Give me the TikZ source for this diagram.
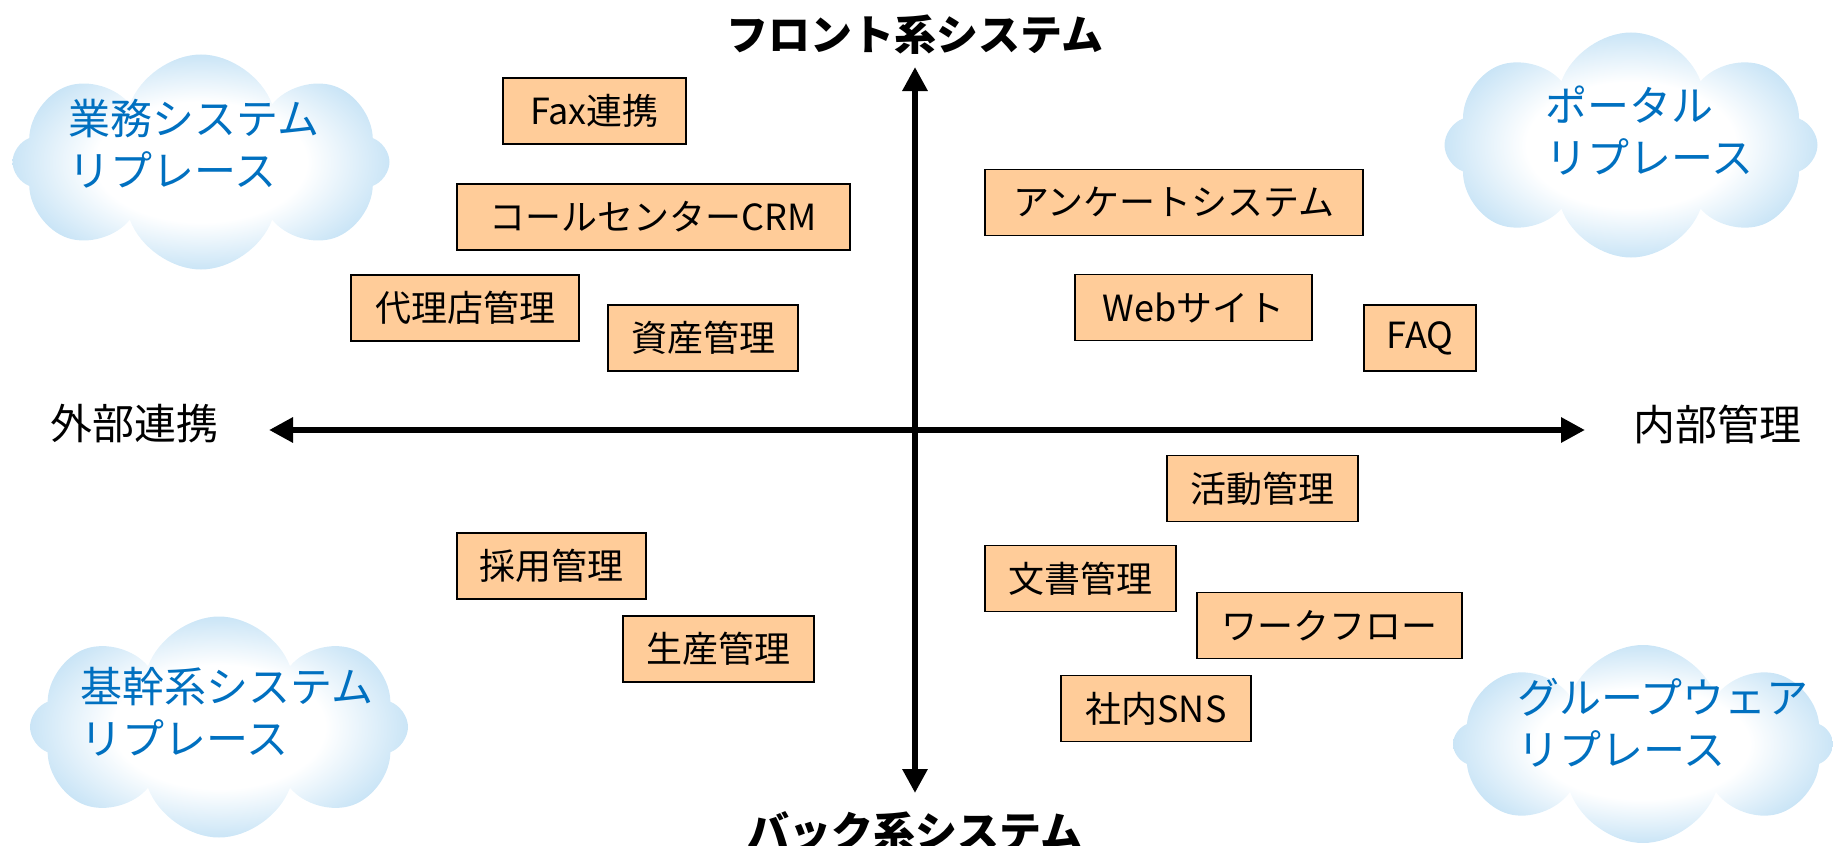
\documentclass[tikz,border=0pt]{standalone}
\usepackage{fontspec}
\setmainfont{Noto Sans CJK JP}
\usepackage{xcolor}
\usepackage{tikz}
\usetikzlibrary{positioning, arrows.meta, shapes.symbols}

\definecolor{boxfill}{RGB}{255,204,153}
\definecolor{cloudblue}{RGB}{140,198,236}
\definecolor{cloudtext}{RGB}{0,112,192}
\pgfdeclareradialshading{cloudfade}{\pgfpoint{0bp}{0bp}}{color(0bp)=(white); color(14bp)=(white); color(38bp)=(cloudblue); color(50bp)=(cloudblue)}

\begin{document}
\begin{tikzpicture}[x=0.5pt,y=-0.5pt,>={Triangle[width=12pt,length=12pt]}]
\tikzset{box/.style={draw,fill=boxfill,line width=0.8pt,minimum height=33pt,inner sep=0pt,font=\fontsize{18pt}{22pt}\selectfont},
  cloudy/.style={cloud,cloud puffs=8,cloud puff arc=140,cloud ignores aspect,shading=cloudfade,inner sep=0pt},
  cloudlbl/.style={anchor=west,align=left,text=cloudtext,inner sep=0pt,font=\fontsize{21pt}{26pt}\selectfont},
  axlbl/.style={inner sep=0pt,font=\fontsize{21pt}{26pt}\selectfont}}
\useasboundingbox (0,0) rectangle (1833,846);

% clouds
\node[cloudy,minimum width=188.5pt,minimum height=107.5pt] (gyomu) at (201,162) {};
\node[cloudy,minimum width=186.5pt,minimum height=112.5pt] (portal) at (1631,145) {};
\node[cloudy,minimum width=189pt,minimum height=110.5pt] (kikan) at (219,727) {};
\node[cloudy,minimum width=190pt,minimum height=99pt] (gware) at (1643,744) {};
\node[cloudlbl] (gyomut) at (68,144) {業務システム\\リプレース};
\node[cloudlbl] (portalt) at (1545,131) {ポータル\\リプレース};
\node[cloudlbl] (kikant) at (80,712) {基幹系システム\\リプレース};
\node[cloudlbl] (gwaret) at (1517,723) {グループウェア\\リプレース};

% axes
\coordinate (ntop) at (915,67);
\coordinate (nbot) at (915,793);
\coordinate (nleft) at (269,430);
\coordinate (nright) at (1585,430);
\draw[<->,line width=3pt] (ntop) -- (nbot);
\draw[<->,line width=3pt] (nleft) -- (nright);
\node[axlbl,font=\fontsize{21pt}{26pt}\selectfont\bfseries] (front) at (915,35) {フロント系システム};
\node[axlbl,font=\fontsize{21pt}{26pt}\selectfont\bfseries] (back) at (915,832) {バック系システム};
\node[axlbl,left=25pt of nleft,yshift=3pt] (gaibu) {外部連携};
\node[axlbl,right=24pt of nright,yshift=3pt] (naibu) {内部管理};

% systems
\node[box,minimum width=91.5pt] (fax) at (594.5,111) {Fax連携};
\node[box,minimum width=196.5pt] (crm) at (653.5,217) {コールセンターCRM};
\node[box,minimum width=114pt] (dairi) at (465,308) {代理店管理};
\node[box,minimum width=95pt] (shisan) at (703,338) {資産管理};
\node[box,minimum width=189pt] (enq) at (1174,202.5) {アンケートシステム};
\node[box,minimum width=118.5pt] (web) at (1193.5,307.5) {Webサイト};
\node[box,minimum width=56pt] (faq) at (1420,338) {FAQ};
\node[box,minimum width=95.5pt] (katsudo) at (1262.5,488.5) {活動管理};
\node[box,minimum width=95.5pt] (bunsho) at (1080.5,578.5) {文書管理};
\node[box,minimum width=132.5pt] (wflow) at (1329.5,625.5) {ワークフロー};
\node[box,minimum width=95pt] (sns) at (1156,708.5) {社内SNS};
\node[box,minimum width=94.5pt] (saiyo) at (551.5,566) {採用管理};
\node[box,minimum width=95.5pt] (seisan) at (718.5,649) {生産管理};
\end{tikzpicture}
\end{document}
